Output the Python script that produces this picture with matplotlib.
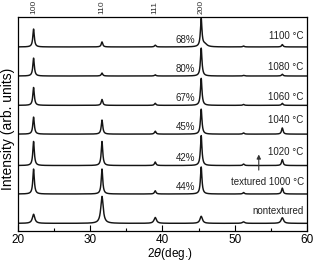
import numpy as np
import matplotlib
matplotlib.use('Agg')
import matplotlib.pyplot as plt
from matplotlib.ticker import MultipleLocator
import matplotlib.transforms as mtransforms

plt.rcParams['font.family'] = ['Liberation Sans', 'DejaVu Sans']

# ── data ──────────────────────────────────────────────────────────────────────
samples   = ['nontextured', 'textured 1000 °C', '1020 °C', '1040 °C',
             '1060 °C', '1080 °C', '1100 °C']
texture   = ['', '44%', '42%', '45%', '67%', '80%', '68%']
offsets   = [0.26, 1.26, 2.23, 3.30, 4.28, 5.28, 6.27]

peak_pos  = [22.2, 31.65, 39.0, 45.35, 51.2, 56.55]
peak_hkl  = ['100', '110', '111', '200']
# peak heights (arb. units) per sample, order as peak_pos
h_nontex  = [0.31, 0.92, 0.20, 0.24, 0.05, 0.19]
h_1000    = [0.85, 0.85, 0.11, 0.92, 0.05, 0.20]
h_1020    = [0.82, 0.82, 0.12, 1.02, 0.05, 0.20]
h_1040    = [0.58, 0.48, 0.10, 0.85, 0.04, 0.21]
h_1060    = [0.61, 0.20, 0.07, 0.92, 0.03, 0.07]
h_1080    = [0.61, 0.10, 0.04, 0.95, 0.02, 0.06]
h_1100    = [0.61, 0.17, 0.06, 0.95, 0.03, 0.08]
heights   = [h_nontex, h_1000, h_1020, h_1040, h_1060, h_1080, h_1100]
fwhm      = [0.40, 0.25, 0.25, 0.25, 0.25, 0.25, 0.25]


def pattern(x, hs, w):
    y = np.zeros_like(x)
    for p, h in zip(peak_pos, hs):
        y += h / (1 + ((x - p) / (w / 2)) ** 2)
    return y


x = np.linspace(20, 60, 4001)

fig = plt.figure(figsize=(3.15, 2.61), dpi=100)
ax = fig.add_axes([0.056, 0.115, 0.9195, 0.821])

for i, (hs, off) in enumerate(zip(heights, offsets)):
    y = pattern(x, hs, fwhm[i])
    if i == 6:  # broad shoulder on the 200 reflection
        y += 0.09 / (1 + ((x - 45.85) / 0.35) ** 2)
    ax.plot(x, y + off, color='#151515', lw=1.05)

# labels on traces
lab_dy = [0.43, 0.41, 0.46, 0.48, 0.30, 0.31, 0.37]
for i, off in enumerate(offsets):
    ax.text(59.5, off + lab_dy[i], samples[i], ha='right', va='center',
            fontsize=7, color='#222222')
    if texture[i]:
        ax.text(44.5, off + 0.24, texture[i], ha='right', va='center',
                fontsize=7, color='#222222')

ax.annotate('', xy=(53.3, 2.70), xytext=(53.3, 1.98),
            arrowprops=dict(arrowstyle='-|>', color='#333333', lw=0.8,
                            mutation_scale=6))

# hkl labels above the frame
trans = mtransforms.blended_transform_factory(ax.transData, ax.transAxes)
for p, hkl in zip(peak_pos, peak_hkl):
    ax.text(p, 1.012, hkl, transform=trans, rotation=90, ha='center',
            va='bottom', fontsize=6, color='#333333')

ax.set_xlim(20, 60)
ax.set_ylim(0, 7.3)
ax.set_yticks([])
ax.xaxis.set_major_locator(MultipleLocator(10))
ax.xaxis.set_minor_locator(MultipleLocator(5))
ax.tick_params(axis='x', which='major', direction='in', length=4,
               width=0.8, labelsize=8.5, pad=2.5)
ax.tick_params(axis='x', which='minor', direction='in', length=2, width=0.8)
for s in ax.spines.values():
    s.set_linewidth(0.9)

ax.set_xlabel(r'2$\theta$(deg.)', fontsize=8.5)
ax.xaxis.set_label_coords(0.526, -0.07)
fig.text(8.3 / 315, 1 - 129 / 261, 'Intensity (arb. units)', rotation=90,
         ha='center', va='center', fontsize=10)

fig.savefig('out.png', dpi=100, facecolor='white')
